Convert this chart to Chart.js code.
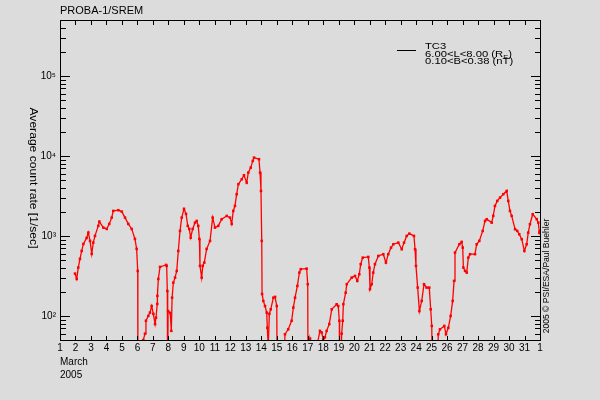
<!DOCTYPE html>
<html>
<head>
<meta charset="utf-8">
<script src="https://cdn.jsdelivr.net/npm/chart.js@4/dist/chart.umd.min.js"></script>
<style>
  html, body { margin: 0; padding: 0; background: #dcdcdc; }
  #wrap { width: 600px; height: 400px; }
</style>
</head>
<body>
<div id="wrap"><canvas id="c" width="600" height="400"></canvas></div>
<script>
/* ------------------------------------------------------------------
   Data — day of March 2005 / count rate [1/sec]
   values of 10 mean "below the axis" (the trace drops off the plot)
------------------------------------------------------------------ */
var days = [
    1.97, 2.08, 2.18, 2.29, 2.40, 2.51, 2.72, 2.83, 2.94, 3.05, 3.15, 3.26, 3.47, 3.54, 3.80, 4.02,
    4.18, 4.34, 4.44, 4.77, 4.99, 5.20, 5.41, 5.63, 5.84, 5.95, 6.02, 6.03,
    6.30, 6.38, 6.49, 6.55, 6.70, 6.81, 6.92, 7.03, 7.14, 7.20, 7.28, 7.29, 7.35, 7.46, 7.85, 7.89,
    7.93, 7.95,
    7.96, 7.98, 8.12, 8.19, 8.24, 8.32, 8.43, 8.54, 8.64, 8.75, 8.86, 9.01, 9.14, 9.25, 9.35, 9.44,
    9.57, 9.72, 9.83, 9.93, 10.00, 10.04, 10.15, 10.22, 10.32, 10.47, 10.69, 10.86, 11.01, 11.22,
    11.44, 11.77, 11.98, 12.09, 12.19, 12.30, 12.41, 12.52, 12.74, 12.88, 13.06, 13.16, 13.32, 13.45,
    13.53, 13.85, 13.92, 13.98, 14.03, 14.05, 14.13, 14.24, 14.35, 14.39, 14.45, 14.52, 14.61, 14.78,
    14.89, 15.00, 15.03,
    15.40, 15.53, 15.74, 15.96, 16.07, 16.18, 16.33, 16.46, 16.55, 16.93, 17.00, 17.02,
    17.08, 17.15, 17.30, 17.65, 17.79, 17.90, 18.00, 18.11, 18.22, 18.39, 18.55, 18.87, 18.97, 19.04,
    19.06,
    19.12, 19.19, 19.26, 19.30, 19.45, 19.52, 19.84, 20.05, 20.20, 20.33, 20.42, 20.55, 20.91, 20.98,
    21.02, 21.13, 21.23, 21.34, 21.56, 21.88, 22.05, 22.20, 22.38, 22.53, 22.85, 23.07, 23.22, 23.39,
    23.56, 23.86, 23.93, 23.99, 24.10, 24.21, 24.36, 24.51, 24.68, 24.85, 24.94, 25.01, 25.05,
    25.35, 25.43, 25.54, 25.82, 25.93, 26.08, 26.23, 26.36, 26.45, 26.51, 26.79, 26.94, 27.01, 27.05,
    27.16, 27.27, 27.37, 27.48, 27.80, 27.91, 28.08, 28.30, 28.45, 28.56, 28.88, 28.98, 29.09, 29.24,
    29.42, 29.63, 29.85, 29.95, 30.06, 30.17, 30.39, 30.53, 30.66, 30.82, 30.99, 31.14, 31.24, 31.35,
    31.53, 31.79, 31.89, 31.96, 32.00
];
var rates = [
    338, 290, 402, 516, 649, 794, 944, 1099, 866, 596, 824, 1000, 1334, 1510, 1270, 1223,
    1413, 1693, 2053, 2096, 2013, 1693, 1413, 1223, 917, 688, 365, 10,
    10, 50, 60, 87, 100, 110, 133, 106, 79, 95, 141, 178, 290, 410, 434, 422,
    205, 10,
    10, 115, 109, 65, 169, 261, 301, 365, 649, 1155, 1693, 2175, 1884, 1334, 1223, 952,
    1223, 1466, 1540, 1334, 917, 422, 301, 422, 464, 688, 866, 1693, 1270, 1334,
    1618, 1778, 1693, 1413, 2053, 2371, 3322, 4429, 5113, 5738, 4637, 6185, 7140, 8660,
    9525, 9100, 6185, 3652, 866, 188, 154, 133, 110, 71, 40, 106, 121, 169,
    173, 133, 10,
    10, 59, 68, 87, 127, 169, 237, 348, 384, 390, 249, 10,
    10, 52, 40, 48, 65, 62, 51, 54, 65, 79, 121, 140, 133, 87,
    10,
    10, 60, 87, 140, 195, 249, 301, 316, 274, 332, 443, 535, 546, 402,
    216, 249, 348, 443, 562, 591, 464, 591, 714, 787, 824, 682, 824, 1000,
    1068, 1000, 682, 422, 226, 115, 154, 249, 226, 226, 121, 75, 10,
    10, 59, 68, 75, 59, 71, 100, 154, 274, 618, 787, 841, 714, 402,
    365, 348, 535, 591, 591, 787, 866, 1155, 1540, 1618, 1466, 1778, 2371, 2738,
    3013, 3322, 3652, 2738, 2053, 1778, 1213, 1155, 1050, 910, 649, 787, 1099, 1400,
    1867, 1618, 1466, 1099, 1155
];

var dayMin = 1, dayMax = 32;          // 1 March .. 1 April
var rateMin = 50, rateMax = 500000;
var supDigits = ['\u2070', '\u00b9', '\u00b2', '\u00b3', '\u2074', '\u2075', '\u2076'];

var titleText  = 'PROBA-1/SREM';
var yTitle     = 'Average count rate [1/sec]';
var creditText = '2005 \u00a9 PSI/ESA/Paul Buehler';
var legendName = 'TC3';

var FONT = '"Liberation Sans", "DejaVu Sans", sans-serif';

var points = days.map(function (d, i) { return { x: d, y: rates[i] }; });

// text stretched along its own direction (the original uses a wide, short raster font)
function wideText(ctx, txt, x, y, sx) {
    ctx.save();
    ctx.translate(x, y);
    ctx.scale(sx, 1);
    ctx.fillText(txt, 0, 0);
    ctx.restore();
    return ctx.measureText(txt).width * sx;
}

/* ------------------------------------------------------------------
   Frame, inward ticks and loose texts
------------------------------------------------------------------ */
var framePlugin = {
    id: 'frame',
    afterDraw: function (chart) {
        var ctx = chart.ctx;
        var a   = chart.chartArea;
        var xs  = chart.scales.x;
        var ys  = chart.scales.y;
        var L = Math.round(a.left), R = Math.round(a.right);
        var T = Math.round(a.top),  B = Math.round(a.bottom);

        ctx.save();
        ctx.fillStyle = '#000';

        // frame
        ctx.fillRect(L, T, R - L + 1, 1);
        ctx.fillRect(L, B, R - L + 1, 1);
        ctx.fillRect(L, T, 1, B - T + 1);
        ctx.fillRect(R, T, 1, B - T + 1);

        // y ticks (log, major + minor) on both sides
        for (var e = 1; e <= 5; e++) {
            for (var m = 1; m <= 9; m++) {
                var v = m * Math.pow(10, e);
                if (v < rateMin || v > rateMax) continue;
                var py = Math.round(ys.getPixelForValue(v));
                var len = (m === 1) ? 10 : 6;
                ctx.fillRect(L, py, len, 1);
                ctx.fillRect(R - len + 1, py, len, 1);
            }
        }
        // x ticks top and bottom
        for (var d = dayMin; d <= dayMax; d++) {
            var px = Math.round(xs.getPixelForValue(d));
            ctx.fillRect(px, B - 4, 1, 4);
            ctx.fillRect(px, T + 1, 1, 4);
        }

        ctx.textBaseline = 'middle';
        ctx.textAlign = 'left';

        // title
        ctx.font = '11px ' + FONT;
        wideText(ctx, titleText, 60, 11, 1);

        // date caption under the x axis
        ctx.font = '10px ' + FONT;
        wideText(ctx, 'March', 60, 362, 1);
        wideText(ctx, '2005', 60, 375, 1);

        // y axis title, reading downwards
        ctx.save();
        ctx.translate(33, 178);
        ctx.rotate(Math.PI / 2);
        ctx.font = '11px ' + FONT;
        var wt = ctx.measureText(yTitle).width * 1.1;
        wideText(ctx, yTitle, -wt / 2, 0, 1.1);
        ctx.restore();

        // credit on the right, reading upwards
        ctx.save();
        ctx.translate(547, 276);
        ctx.rotate(-Math.PI / 2);
        ctx.font = '9px ' + FONT;
        var wc = ctx.measureText(creditText).width * 0.95;
        wideText(ctx, creditText, -wc / 2, 0, 0.95);
        ctx.restore();

        // legend
        ctx.fillRect(397, 50, 19, 1);
        ctx.font = '9px ' + FONT;
        var sx = 1.25;
        wideText(ctx, legendName, 425, 47, sx);
        var w1 = wideText(ctx, '6.00<L<8.00 (R', 425, 54.5, sx);
        ctx.font = '6px ' + FONT;
        var w2 = wideText(ctx, 'E', 425 + w1, 57, sx);
        ctx.font = '9px ' + FONT;
        wideText(ctx, ')', 425 + w1 + w2, 54.5, sx);
        wideText(ctx, '0.10<B<0.38 (nT)', 425, 62, sx);

        ctx.restore();
    }
};

var bg = {
    id: 'bg',
    beforeDraw: function (chart) {
        var ctx = chart.ctx;
        ctx.save();
        ctx.fillStyle = '#dcdcdc';
        ctx.fillRect(0, 0, chart.width, chart.height);
        ctx.restore();
    }
};

new Chart(document.getElementById('c').getContext('2d'), {
    type: 'scatter',
    data: {
        datasets: [{
            label: legendName,
            data: points,
            showLine: true,
            borderColor: '#ff0000',
            backgroundColor: '#ff0000',
            borderWidth: 1.3,
            pointStyle: 'rect',
            pointRadius: 1.8,
            pointBorderWidth: 0,
            tension: 0,
            clip: 0
        }]
    },
    options: {
        responsive: false,
        animation: false,
        layout: { padding: { top: 20, right: 60, left: 0, bottom: 0 } },
        plugins: {
            legend: { display: false },
            tooltip: { enabled: false }
        },
        scales: {
            x: {
                type: 'linear',
                min: dayMin,
                max: dayMax,
                grid: { display: false, drawTicks: false },
                border: { display: false },
                ticks: {
                    stepSize: 1,
                    autoSkip: false,
                    maxRotation: 0,
                    padding: 2,
                    color: '#000',
                    font: { family: FONT, size: 10 },
                    callback: function (v) { return v === dayMax ? '1' : String(v); }
                },
                afterFit: function (s) { s.height = 60; }
            },
            y: {
                type: 'logarithmic',
                min: rateMin,
                max: rateMax,
                grid: { display: false, drawTicks: false },
                border: { display: false },
                ticks: {
                    autoSkip: false,
                    padding: 4,
                    color: '#000',
                    font: { family: FONT, size: 10 },
                    callback: function (v) {
                        var e = Math.log10(v);
                        if (Math.abs(e - Math.round(e)) > 1e-9) return '';
                        return '10' + supDigits[Math.round(e)];
                    }
                },
                afterFit: function (s) { s.width = 60; }
            }
        }
    },
    plugins: [bg, framePlugin]
});
</script>
</body>
</html>
